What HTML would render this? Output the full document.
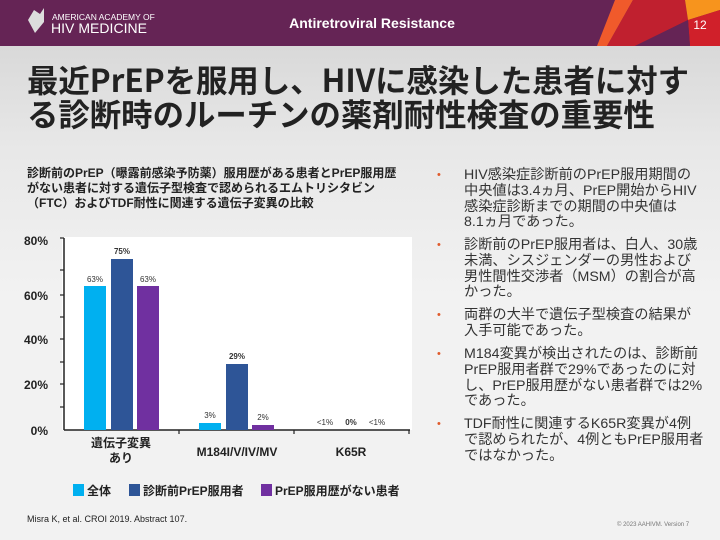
<!DOCTYPE html>
<html><head><meta charset="utf-8"><style>
*{margin:0;padding:0;box-sizing:border-box}
body{width:720px;height:540px;overflow:hidden;position:relative;font-family:"Liberation Sans","Noto Sans CJK JP",sans-serif;background:linear-gradient(#d2d2d2 0px,#e8e8e8 150px,#f2f2f2 300px,#f2f2f2 540px)}
.hdr{position:absolute;left:0;top:0;width:720px;height:46px;background:#652455}
.abs{position:absolute;white-space:nowrap}
.title{left:27px;top:63px;font-size:31.4px;font-weight:bold;color:#222;line-height:34px;font-family:"Noto Sans CJK JP",sans-serif;letter-spacing:0px}
.sub{left:27px;top:166px;font-size:12px;font-weight:bold;color:#222;line-height:15px;font-family:"Liberation Sans","Noto Sans CJK JP",sans-serif}
.bul{left:437px;font-size:14.2px;color:#333;line-height:15.8px;font-family:"Liberation Sans","Noto Sans CJK JP",sans-serif}
.bul .d{position:absolute;left:0;top:0;color:#e05a2b;font-size:11px}
.bul .t{position:absolute;left:27px;top:0}
</style></head><body>
<div class="hdr"></div>
<svg class="abs" style="left:0;top:0" width="720" height="46">
<polygon points="615,0 633,0 607,46 597,46" fill="#f05a2b"/>
<polygon points="633,0 685,0 688,20 635,46 607,46" fill="#c0202f"/>
<polygon points="685,0 720,0 720,10 688,20" fill="#f7941d"/>
<polygon points="688,20 720,10 720,46 690,46" fill="#d0202a"/>
<polygon points="635,46 688,20 690,46" fill="#652455"/>
<polygon points="28,20 34,10 40,14 44,8 44,22 35,33" fill="#ddd"/>
<text x="700" y="29" fill="#fff" font-size="12" font-family="Liberation Sans" text-anchor="middle">12</text>
<text x="52" y="20" fill="#fff" font-size="8.5" font-family="Liberation Sans">AMERICAN ACADEMY OF</text>
<text x="51" y="33" fill="#fff" font-size="14" font-family="Liberation Sans" textLength="96">HIV MEDICINE</text>
<text x="372" y="28" fill="#fff" font-size="14" font-weight="bold" font-family="Liberation Sans" text-anchor="middle">Antiretroviral Resistance</text>
</svg>
<div class="abs title">最近PrEPを服用し、HIVに感染した患者に対す<br>る診断時のルーチンの薬剤耐性検査の重要性</div>
<div class="abs sub">診断前のPrEP（曝露前感染予防薬）服用歴がある患者とPrEP服用歴<br>がない患者に対する遺伝子型検査で認められるエムトリシタビン<br>（FTC）およびTDF耐性に関連する遺伝子変異の比較</div>

<svg class="abs" style="left:0;top:230px" width="420" height="280" font-family="Liberation Sans, Noto Sans CJK JP, sans-serif">
<g transform="translate(0,-230)">
<rect x="62" y="237" width="350" height="193" fill="#fff"/>
<g font-size="12" font-weight="bold" fill="#222" text-anchor="end">
<text x="48" y="245">80%</text><text x="48" y="300">60%</text><text x="48" y="344">40%</text><text x="48" y="389">20%</text><text x="48" y="435">0%</text></g>
<line x1="64" y1="238" x2="64" y2="430" stroke="#222" stroke-width="1.5"/>
<line x1="64" y1="430" x2="410" y2="430" stroke="#222" stroke-width="1.5"/>
<g stroke="#222" stroke-width="1.2">
<line x1="60" y1="238" x2="64" y2="238"/><line x1="60" y1="270" x2="64" y2="270"/><line x1="60" y1="295" x2="64" y2="295"/><line x1="60" y1="317" x2="64" y2="317"/><line x1="60" y1="339" x2="64" y2="339"/><line x1="60" y1="362" x2="64" y2="362"/><line x1="60" y1="384" x2="64" y2="384"/><line x1="60" y1="407" x2="64" y2="407"/>
<line x1="179" y1="430" x2="179" y2="434"/><line x1="294" y1="430" x2="294" y2="434"/><line x1="409" y1="430" x2="409" y2="434"/>
</g>
<rect x="84" y="286" width="22" height="144" fill="#00b0f0"/>
<rect x="111" y="259" width="22" height="171" fill="#2e5597"/>
<rect x="137" y="286" width="22" height="144" fill="#7030a0"/>
<rect x="199" y="423" width="22" height="7" fill="#00b0f0"/>
<rect x="226" y="364" width="22" height="66" fill="#2e5597"/>
<rect x="252" y="425" width="22" height="5" fill="#7030a0"/>
<g font-size="8" fill="#333" text-anchor="middle">
<text x="95" y="282">63%</text><text x="122" y="254" font-weight="bold">75%</text><text x="148" y="282">63%</text>
<text x="210" y="418">3%</text><text x="237" y="359" font-weight="bold">29%</text><text x="263" y="420">2%</text>
<text x="325" y="425">&lt;1%</text><text x="351" y="425" font-weight="bold">0%</text><text x="377" y="425">&lt;1%</text></g>
<g font-size="12" font-weight="bold" fill="#222" text-anchor="middle">
<text x="121" y="447">遺伝子変異</text><text x="121" y="462">あり</text>
<text x="237" y="456">M184I/V/IV/MV</text><text x="351" y="456">K65R</text></g>
<g font-size="12" font-weight="bold" fill="#222">
<rect x="73" y="484" width="11" height="12" fill="#00b0f0"/><text x="87" y="495">全体</text>
<rect x="129" y="484" width="11" height="12" fill="#2e5597"/><text x="143" y="495">診断前PrEP服用者</text>
<rect x="261" y="484" width="11" height="12" fill="#7030a0"/><text x="275" y="495">PrEP服用歴がない患者</text></g>
</g></svg>

<div class="abs bul" style="top:168px"><span class="d">•</span><span class="t">HIV感染症診断前のPrEP服用期間の<br>中央値は3.4ヵ月、PrEP開始からHIV<br>感染症診断までの期間の中央値は<br>8.1ヵ月であった。</span></div>
<div class="abs bul" style="top:238px"><span class="d">•</span><span class="t">診断前のPrEP服用者は、白人、30歳<br>未満、シスジェンダーの男性および<br>男性間性交渉者（MSM）の割合が高<br>かった。</span></div>
<div class="abs bul" style="top:308px"><span class="d">•</span><span class="t">両群の大半で遺伝子型検査の結果が<br>入手可能であった。</span></div>
<div class="abs bul" style="top:347px"><span class="d">•</span><span class="t">M184変異が検出されたのは、診断前<br>PrEP服用者群で29%であったのに対<br>し、PrEP服用歴がない患者群では2%<br>であった。</span></div>
<div class="abs bul" style="top:417px"><span class="d">•</span><span class="t">TDF耐性に関連するK65R変異が4例<br>で認められたが、4例ともPrEP服用者<br>ではなかった。</span></div>

<div class="abs" style="left:27px;top:514px;font-size:9px;color:#222">Misra K, et al. CROI 2019. Abstract 107.</div>
<div class="abs" style="left:617px;top:522px;font-size:6px;color:#777">© 2023 AAHIVM. Version 7</div>
</body></html>
